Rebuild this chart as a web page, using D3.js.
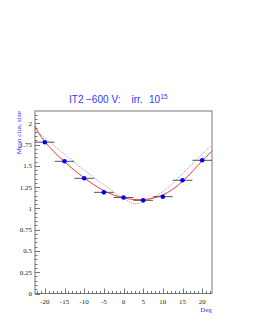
<!DOCTYPE html>
<html>
<head>
<meta charset="utf-8">
<script src="https://cdn.jsdelivr.net/npm/d3@7"></script>
<style>
  body { margin: 0; background: #fff; }
  svg { display: block; }
</style>
</head>
<body>
<svg width="255" height="330"></svg>
<script>
// measured points
const angles = [-20, -15, -10, -5, 0, 5, 10, 15, 20];
const clusSize = [1.78, 1.555, 1.355, 1.19, 1.13, 1.096, 1.139, 1.332, 1.567];
const angleErr = [2.5, 2.5, 2.5, 2.5, 2.5, 2.5, 2.5, 2.5, 2.5];

// red fit curve
const fitX = [-22.5, -20, -15, -10, -5, 0, 5, 10, 15, 20, 22.5];
const fitY = [1.97, 1.785, 1.55, 1.36, 1.21, 1.125, 1.105, 1.16, 1.32, 1.56, 1.675];

// grey dotted model curve
const modX = [-22.5, -20, -15, -10, -5, 0, 3, 5, 10, 15, 20, 22];
const modY = [1.93, 1.83, 1.64, 1.45, 1.28, 1.12, 1.055, 1.08, 1.2, 1.41, 1.64, 1.73];

const yTicks = [0, 0.25, 0.5, 0.75, 1, 1.25, 1.5, 1.75, 2];
const xTicks = [-20, -15, -10, -5, 0, 5, 10, 15, 20];

const svg = d3.select("svg");
const mL = 35, mR = 212, mT = 111, mB = 293.5;

const x = d3.scaleLinear().domain([-22.5, 22.5]).range([mL, mR]);
const y = d3.scaleLinear().domain([0, 2.147]).range([mB, mT]);

const serif = "'Liberation Serif', 'Times New Roman', serif";

// frame
svg.append("rect")
  .attr("x", mL).attr("y", mT)
  .attr("width", mR - mL).attr("height", mB - mT)
  .attr("fill", "none").attr("stroke", "#777").attr("stroke-width", 1);

// y axis ticks (inside)
const gy = svg.append("g");
d3.range(0, 2.1401, 0.05).forEach(v => {
  const major = yTicks.some(t => Math.abs(t - v) < 1e-6);
  gy.append("line")
    .attr("x1", mL).attr("x2", mL + (major ? 5 : 2.5))
    .attr("y1", Math.round(y(v)) + 0.5).attr("y2", Math.round(y(v)) + 0.5)
    .attr("stroke", "#555").attr("stroke-width", 0.8);
});
gy.selectAll("text").data(yTicks).enter().append("text")
  .attr("x", mL - 3)
  .attr("y", d => y(d) + 2.5)
  .attr("text-anchor", "end")
  .attr("font-family", serif).attr("font-size", 7).attr("fill", "#222")
  .text(d => d);

// x axis ticks
const gx = svg.append("g");
d3.range(-22, 23, 1).forEach(v => {
  const major = v % 5 === 0;
  gx.append("line")
    .attr("x1", Math.round(x(v)) + 0.5).attr("x2", Math.round(x(v)) + 0.5)
    .attr("y1", mB).attr("y2", mB - (major ? 5 : 2.5))
    .attr("stroke", "#555").attr("stroke-width", 0.8);
});
gx.selectAll("text").data(xTicks).enter().append("text")
  .attr("x", d => x(d))
  .attr("y", mB + 10)
  .attr("text-anchor", "middle")
  .attr("font-family", serif).attr("font-size", 7).attr("fill", "#222")
  .text(d => d);

// axis titles
svg.append("text")
  .attr("x", mR).attr("y", mB + 18)
  .attr("text-anchor", "end")
  .attr("font-family", serif).attr("font-size", 7).attr("fill", "#33f")
  .text("Deg");
svg.append("text")
  .attr("transform", `translate(${mL - 14},${mT}) rotate(-90)`)
  .attr("text-anchor", "end")
  .attr("font-family", serif).attr("font-size", 7).attr("fill", "#33f")
  .text("Mean clus. size");

// title, words placed like the original
const title = svg.append("text")
  .attr("y", 103)
  .attr("font-family", "'Liberation Sans', Arial, sans-serif")
  .attr("font-size", 10).attr("fill", "#33f");
title.append("tspan").attr("x", 69).text("IT2");
title.append("tspan").attr("x", 86).text("\u2212600");
title.append("tspan").attr("x", 111.5).text("V:");
title.append("tspan").attr("x", 131.5).text("irr.");
title.append("tspan").attr("x", 149).text("10");
title.append("tspan").attr("x", 160.5).attr("y", 98.5).attr("font-size", 6.5).text("15");

// curves
const plot = svg.append("g");
plot.append("path")
  .datum(modX.map((d, i) => [d, modY[i]]))
  .attr("d", d3.line().x(d => x(d[0])).y(d => y(d[1])).curve(d3.curveMonotoneX))
  .attr("fill", "none").attr("stroke", "#777").attr("stroke-width", 0.8)
  .attr("stroke-dasharray", "1,1.2");

plot.append("path")
  .datum(fitX.map((d, i) => [d, fitY[i]]))
  .attr("d", d3.line().x(d => x(d[0])).y(d => y(d[1])).curve(d3.curveNatural))
  .attr("fill", "none").attr("stroke", "#f33").attr("stroke-width", 1);

// error bars
plot.selectAll(".err").data(angles).enter().append("line")
  .attr("x1", (d, i) => x(d - angleErr[i]))
  .attr("x2", (d, i) => x(d + angleErr[i]))
  .attr("y1", (d, i) => y(clusSize[i]))
  .attr("y2", (d, i) => y(clusSize[i]))
  .attr("stroke", "#555").attr("stroke-width", 1);

// markers
plot.selectAll(".pt").data(angles).enter().append("circle")
  .attr("cx", d => x(d))
  .attr("cy", (d, i) => y(clusSize[i]))
  .attr("r", 2.3)
  .attr("fill", "#00f");
</script>
</body>
</html>
